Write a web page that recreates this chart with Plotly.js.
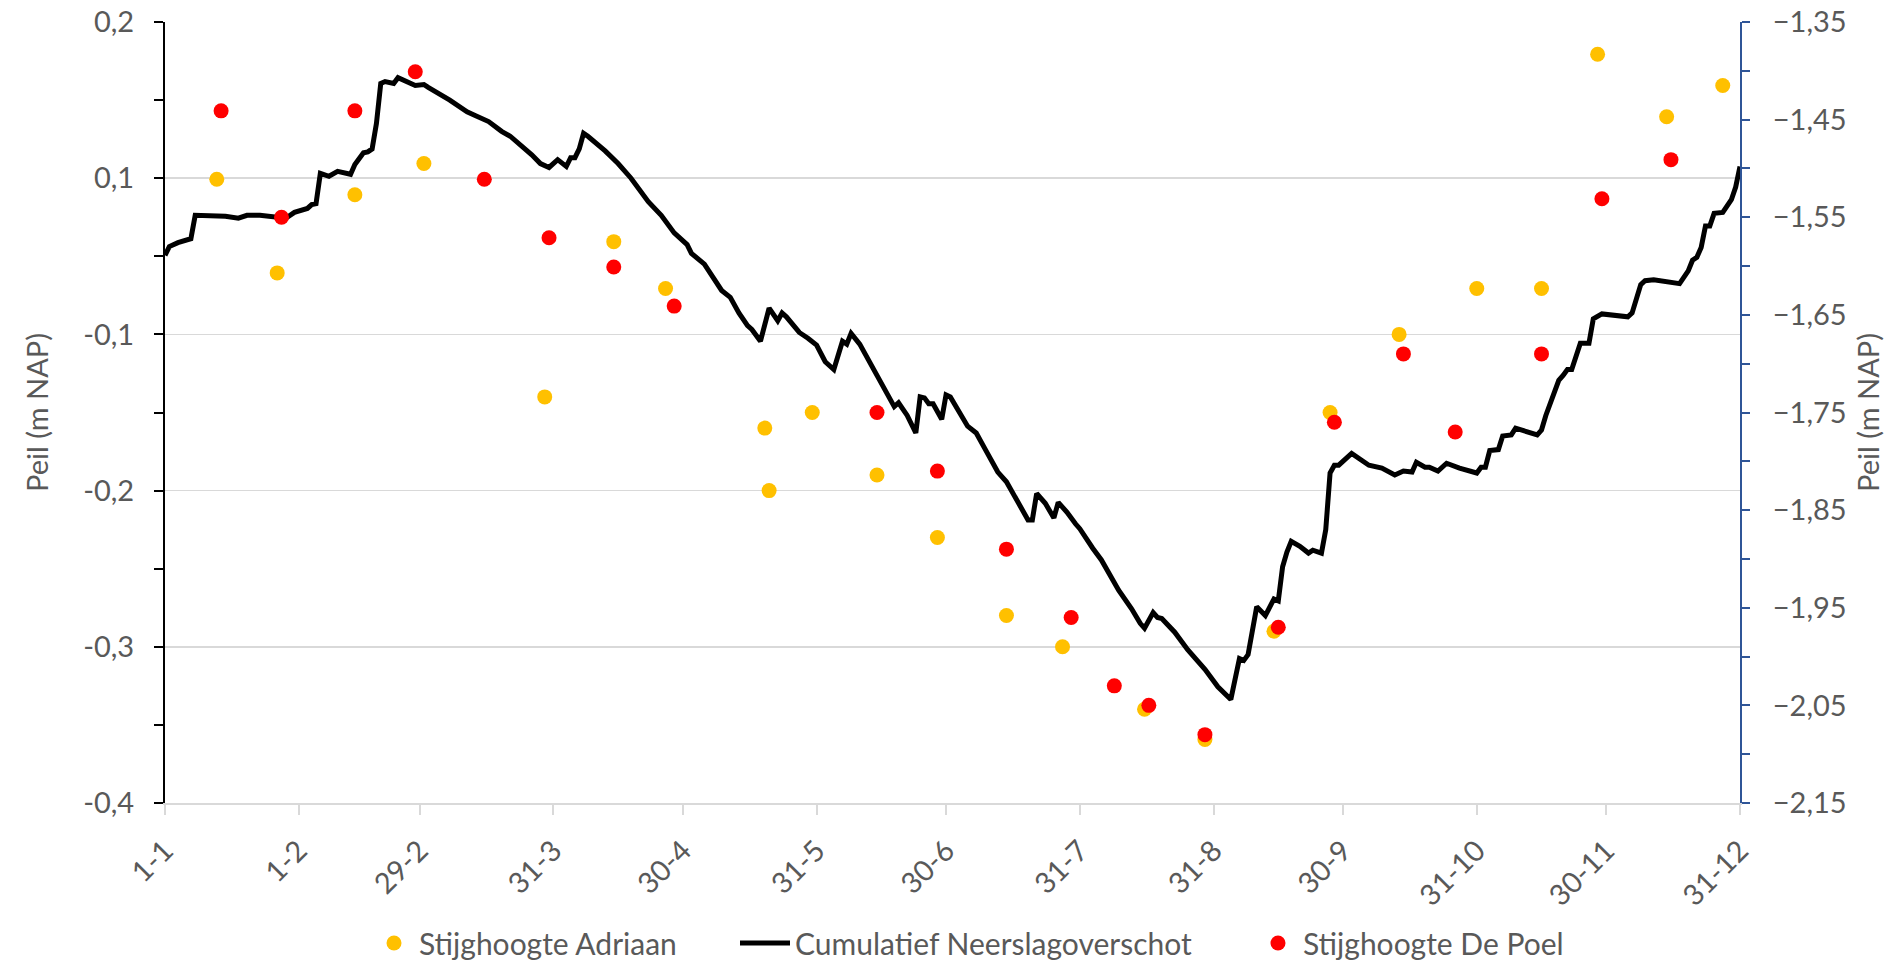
<!DOCTYPE html>
<html>
<head>
<meta charset="utf-8">
<script src="https://cdn.plot.ly/plotly-3.0.1.min.js"></script>
<style>
  html, body { margin: 0; padding: 0; background: #ffffff; }
  #chart { width: 1888px; height: 961px; }
</style>
</head>
<body>
<div id="chart"></div>
<script>
// ---- x-axis ticks ----
const xTickDates = ['2024-01-01','2024-02-01','2024-02-29','2024-03-31','2024-04-30','2024-05-31','2024-06-30',
                    '2024-07-31','2024-08-31','2024-09-30','2024-10-31','2024-11-30','2024-12-31'];
const xTickLabels = ['1-1','1-2','29-2','31-3','30-4','31-5','30-6','31-7','31-8','30-9','31-10','30-11','31-12'];

// ---- left axis: printed labels at their (evenly spaced) positions on the shared m NAP scale ----
const leftTickVals = [-2.15, -1.99, -1.83, -1.67, -1.51, -1.35];
const leftTickText = ['-0,4', '-0,3', '-0,2', '-0,1', '0,1', '0,2'];

// ---- Stijghoogte Adriaan (m NAP) ----
const adriaanDates = ['2024-01-13','2024-01-27','2024-02-14','2024-03-01','2024-03-29','2024-04-14','2024-04-26',
  '2024-05-19','2024-05-20','2024-05-30','2024-06-14','2024-06-28','2024-07-14','2024-07-27','2024-08-15',
  '2024-08-29','2024-09-14','2024-09-27','2024-10-13','2024-10-31','2024-11-15','2024-11-28','2024-12-14','2024-12-27'];
const adriaanValues = [-1.511,-1.607,-1.527,-1.495,-1.734,-1.575,-1.623,
  -1.766,-1.830,-1.750,-1.814,-1.878,-1.958,-1.990,-2.054,
  -2.085,-1.974,-1.750,-1.670,-1.623,-1.623,-1.383,-1.447,-1.415];

// ---- Stijghoogte De Poel (m NAP) ----
const poelDates = ['2024-01-14','2024-01-28','2024-02-14','2024-02-28','2024-03-15','2024-03-30','2024-04-14',
  '2024-04-28','2024-06-14','2024-06-28','2024-07-14','2024-07-29','2024-08-08','2024-08-16','2024-08-29',
  '2024-09-15','2024-09-28','2024-10-14','2024-10-26','2024-11-15','2024-11-29','2024-12-15'];
const poelValues = [-1.441,-1.550,-1.441,-1.401,-1.511,-1.571,-1.601,
  -1.641,-1.750,-1.810,-1.890,-1.960,-2.030,-2.050,-2.080,
  -1.970,-1.760,-1.690,-1.770,-1.690,-1.531,-1.491];

// ---- Cumulatief Neerslagoverschot (read on the same scale) ----
const neerslagDates = [
  '2024-01-01','2024-01-02','2024-01-04','2024-01-06','2024-01-07','2024-01-08','2024-01-11','2024-01-15','2024-01-18','2024-01-20',
  '2024-01-23','2024-01-26','2024-01-29','2024-01-31','2024-02-02','2024-02-03','2024-02-04','2024-02-05','2024-02-06','2024-02-08',
  '2024-02-10','2024-02-11','2024-02-13','2024-02-14','2024-02-16','2024-02-17','2024-02-18','2024-02-19','2024-02-20','2024-02-21',
  '2024-02-23','2024-02-24','2024-02-25','2024-02-28','2024-03-01','2024-03-02','2024-03-07','2024-03-11','2024-03-13','2024-03-16',
  '2024-03-19','2024-03-21','2024-03-26','2024-03-28','2024-03-30','2024-04-01','2024-04-03','2024-04-04','2024-04-05','2024-04-06',
  '2024-04-07','2024-04-08','2024-04-12','2024-04-13','2024-04-15','2024-04-18','2024-04-19','2024-04-22','2024-04-25','2024-04-28',
  '2024-05-01','2024-05-02','2024-05-05','2024-05-07','2024-05-09','2024-05-11','2024-05-13','2024-05-15','2024-05-16','2024-05-18',
  '2024-05-20','2024-05-22','2024-05-23','2024-05-24','2024-05-27','2024-05-29','2024-05-31','2024-06-02','2024-06-04','2024-06-06',
  '2024-06-07','2024-06-08','2024-06-10','2024-06-14','2024-06-18','2024-06-19','2024-06-21','2024-06-23','2024-06-24','2024-06-25',
  '2024-06-26','2024-06-27','2024-06-29','2024-06-30','2024-07-01','2024-07-05','2024-07-07','2024-07-09','2024-07-11','2024-07-12',
  '2024-07-14','2024-07-17','2024-07-19','2024-07-20','2024-07-21','2024-07-23','2024-07-25','2024-07-26','2024-07-28','2024-07-30',
  '2024-07-31','2024-08-03','2024-08-05','2024-08-09','2024-08-12','2024-08-14','2024-08-15','2024-08-17','2024-08-18','2024-08-19',
  '2024-08-22','2024-08-25','2024-08-26','2024-08-29','2024-09-01','2024-09-04','2024-09-06','2024-09-07','2024-09-08','2024-09-10',
  '2024-09-12','2024-09-14','2024-09-15','2024-09-16','2024-09-17','2024-09-18','2024-09-20','2024-09-22','2024-09-23','2024-09-25',
  '2024-09-26','2024-09-27','2024-09-28','2024-09-29','2024-10-02','2024-10-04','2024-10-06','2024-10-09','2024-10-12','2024-10-14',
  '2024-10-16','2024-10-17','2024-10-19','2024-10-20','2024-10-22','2024-10-24','2024-10-27','2024-10-31','2024-11-01','2024-11-02',
  '2024-11-03','2024-11-05','2024-11-06','2024-11-08','2024-11-09','2024-11-14','2024-11-15','2024-11-16','2024-11-18','2024-11-19',
  '2024-11-20','2024-11-21','2024-11-22','2024-11-24','2024-11-26','2024-11-27','2024-11-29','2024-12-02','2024-12-05','2024-12-06',
  '2024-12-08','2024-12-09','2024-12-11','2024-12-17','2024-12-19','2024-12-20','2024-12-21','2024-12-22','2024-12-23','2024-12-24',
  '2024-12-25','2024-12-27','2024-12-28','2024-12-29','2024-12-30','2024-12-31'];
const neerslagValues = [
  -1.589,-1.580,-1.576,-1.574,-1.572,-1.548,-1.548,-1.549,-1.551,-1.548,
  -1.548,-1.549,-1.551,-1.545,-1.543,-1.541,-1.537,-1.536,-1.505,-1.508,
  -1.503,-1.504,-1.506,-1.496,-1.484,-1.483,-1.480,-1.454,-1.413,-1.411,
  -1.413,-1.407,-1.409,-1.415,-1.414,-1.417,-1.430,-1.442,-1.446,-1.452,
  -1.462,-1.467,-1.486,-1.495,-1.499,-1.491,-1.498,-1.489,-1.489,-1.480,
  -1.464,-1.467,-1.482,-1.486,-1.495,-1.510,-1.516,-1.534,-1.548,-1.566,
  -1.578,-1.587,-1.598,-1.611,-1.625,-1.632,-1.648,-1.661,-1.665,-1.677,
  -1.643,-1.656,-1.648,-1.652,-1.668,-1.674,-1.681,-1.698,-1.706,-1.677,
  -1.680,-1.669,-1.680,-1.712,-1.744,-1.740,-1.753,-1.771,-1.734,-1.735,
  -1.741,-1.741,-1.757,-1.732,-1.734,-1.764,-1.771,-1.787,-1.802,-1.811,
  -1.821,-1.843,-1.860,-1.860,-1.833,-1.843,-1.858,-1.842,-1.852,-1.864,
  -1.869,-1.889,-1.901,-1.932,-1.951,-1.966,-1.971,-1.955,-1.960,-1.961,
  -1.975,-1.993,-1.998,-2.013,-2.031,-2.044,-2.002,-2.004,-1.998,-1.949,
  -1.958,-1.941,-1.943,-1.908,-1.893,-1.882,-1.887,-1.894,-1.891,-1.894,
  -1.870,-1.812,-1.804,-1.804,-1.792,-1.798,-1.804,-1.807,-1.814,-1.810,
  -1.811,-1.801,-1.806,-1.806,-1.810,-1.802,-1.807,-1.812,-1.806,-1.806,
  -1.789,-1.788,-1.774,-1.773,-1.766,-1.773,-1.768,-1.753,-1.727,-1.717,
  -1.712,-1.706,-1.706,-1.679,-1.679,-1.654,-1.649,-1.650,-1.652,-1.648,
  -1.619,-1.615,-1.614,-1.618,-1.605,-1.594,-1.591,-1.581,-1.559,-1.559,
  -1.546,-1.545,-1.539,-1.532,-1.519,-1.498];

const FONT = 'Lato, "Open Sans", sans-serif';
const TXT = '#595959';
const LEG_Y = (961 - 943) / 961;

const traces = [
  {
    name: 'Cumulatief Neerslagoverschot', type: 'scatter', mode: 'lines',
    x: neerslagDates, y: neerslagValues, yaxis: 'y', legend: 'legend2',
    line: { color: '#000000', width: 5, shape: 'linear' }
  },
  {
    name: 'Stijghoogte Adriaan', type: 'scatter', mode: 'markers',
    x: adriaanDates, y: adriaanValues, yaxis: 'y2', legend: 'legend',
    marker: { color: '#FFC000', size: 15, line: { width: 0 } }
  },
  {
    name: 'Stijghoogte De Poel', type: 'scatter', mode: 'markers',
    x: poelDates, y: poelValues, yaxis: 'y2', legend: 'legend3',
    marker: { color: '#FF0000', size: 15, line: { width: 0 } }
  }
];

const legFont = { family: FONT, size: 30, color: TXT };
const legBase = { orientation: 'h', xref: 'container', yref: 'container', xanchor: 'left', y: LEG_Y, yanchor: 'middle',
                  font: legFont, bgcolor: 'rgba(0,0,0,0)' };

const layout = {
  width: 1888, height: 961,
  paper_bgcolor: '#ffffff', plot_bgcolor: '#ffffff',
  margin: { l: 165, r: 148, t: 22, b: 158, autoexpand: false },
  separators: ',.',
  font: { family: FONT, size: 29, color: TXT },
  showlegend: true,
  legend:  Object.assign({}, legBase, { x: 369 / 1888, itemwidth: 40 }),
  legend2: Object.assign({}, legBase, { x: 735 / 1888, itemwidth: 50 }),
  legend3: Object.assign({}, legBase, { x: 1253 / 1888, itemwidth: 40 }),
  xaxis: {
    type: 'date', range: ['2024-01-01', '2024-12-31'],
    tickmode: 'array', tickvals: xTickDates, ticktext: xTickLabels,
    tickangle: -45, ticks: 'outside', ticklen: 10, tickwidth: 2, tickcolor: '#d9d9d9',
    showline: true, linecolor: '#d9d9d9', linewidth: 2,
    showgrid: false, zeroline: false,
    ticklabelstandoff: 7,
    tickfont: { family: FONT, size: 29, color: TXT }
  },
  yaxis: {
    range: [-2.15, -1.35], tickmode: 'array', tickvals: leftTickVals, ticktext: leftTickText,
    ticks: 'outside', ticklen: 9, tickwidth: 2, tickcolor: '#000000',
    minor: { dtick: 0.08, tick0: -2.15, ticks: 'outside', ticklen: 9, tickwidth: 2, tickcolor: '#000000', showgrid: false },
    showline: true, linecolor: '#000000', linewidth: 2,
    showgrid: true, gridcolor: '#d9d9d9', gridwidth: 1.5, zeroline: false,
    ticklabelstandoff: 14,
    tickfont: { family: FONT, size: 29, color: TXT },
    title: { text: 'Peil (m NAP)', font: { family: FONT, size: 29, color: TXT }, standoff: 26 }
  },
  yaxis2: {
    overlaying: 'y', side: 'right', range: [-2.15, -1.35],
    tick0: -1.35, dtick: 0.1, tickformat: '.2f',
    ticks: 'outside', ticklen: 8, tickwidth: 2, tickcolor: '#2F5597',
    minor: { dtick: 0.05, tick0: -1.35, ticks: 'outside', ticklen: 8, tickwidth: 2, tickcolor: '#2F5597', showgrid: false },
    showline: true, linecolor: '#2F5597', linewidth: 2,
    showgrid: false, zeroline: false,
    ticklabelstandoff: 17,
    tickfont: { family: FONT, size: 29, color: TXT },
    title: { text: 'Peil (m NAP)', font: { family: FONT, size: 29, color: TXT }, standoff: 13 }
  }
};

Plotly.newPlot('chart', traces, layout, { displayModeBar: false, staticPlot: true });
</script>
</body>
</html>
